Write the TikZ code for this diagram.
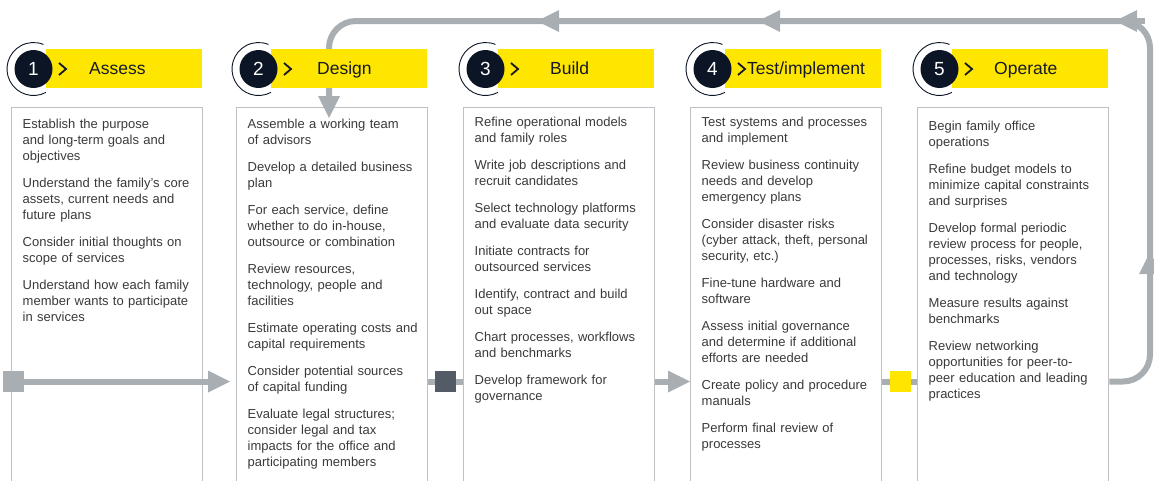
\documentclass[tikz,border=0pt]{standalone}
\usepackage{fontspec}
\setmainfont{Liberation Sans}
\usetikzlibrary{arrows.meta}
\definecolor{eyyellow}{HTML}{FFE600}
\definecolor{flowgray}{HTML}{A9AEB3}
\definecolor{boxgray}{HTML}{BDC1C5}
\definecolor{navy}{HTML}{0B1526}
\definecolor{slate}{HTML}{535B67}
\definecolor{bodytext}{HTML}{3A3A3A}
\definecolor{headtext}{HTML}{161A26}
\begin{document}
\begin{tikzpicture}[x=1pt,y=-1pt,
  flow/.style={draw=flowgray,line width=6pt},
  ahead/.style={flow,-{Triangle[length=22pt,width=22pt,line width=0pt]}},
  colbox/.style={draw=boxgray,line width=1.3pt,fill=white,anchor=north west,minimum width=191pt,minimum height=400pt,inner sep=0pt},
  yband/.style={fill=eyyellow,anchor=north west,minimum width=156pt,minimum height=39pt,inner sep=0pt},
  numc/.style={circle,fill=navy,minimum size=38pt,inner sep=0pt,text=white,font=\fontsize{19}{19}\selectfont},
  ring/.style={draw=navy,line width=0.9pt},
  chev/.style={draw=headtext,line width=1.8pt},
  htext/.style={anchor=base west,inner sep=0pt,text=headtext,font=\fontsize{17.5}{20}\selectfont},
  body/.style={anchor=north west,inner sep=0pt,text width=185pt,align=left,text=bodytext,font=\fontsize{13}{16}\selectfont},
  sq/.style={minimum size=21pt,inner sep=0pt}
]
\useasboundingbox (0,0) rectangle (1154,480);
\clip (0,0) rectangle (1154,480);

% ---------- column boxes ----------
\node[colbox] (b1) at (11,106.5) {};
\node[colbox] (b2) at (236,106.5) {};
\node[colbox] (b3) at (463,106.5) {};
\node[colbox] (b4) at (690,106.5) {};
\node[colbox] (b5) at (917,106.5) {};

% ---------- feedback loop ----------
\coordinate (c1) at (1150,381.5);
\coordinate (c2) at (1150,21);
\coordinate (c3) at (329,21);
\coordinate (c4) at (329,100);
\draw[flow,rounded corners=27pt] (b5.east |- c1) -- (c1) -- (c2) -- (c3) -- (c4);

\coordinate (ua) at (1150,282); \coordinate (ub) at (1150,252);
\coordinate (ta1) at (1145,21); \coordinate (tb1) at (1115,21);
\coordinate (ta2) at (788,21);  \coordinate (tb2) at (758,21);
\coordinate (ta3) at (567,21);  \coordinate (tb3) at (537,21);
\draw[ahead] (ua) -- (ub);
\draw[ahead] (ta1) -- (tb1);
\draw[ahead] (ta2) -- (tb2);
\draw[ahead] (ta3) -- (tb3);

% ---------- headers ----------
\node[yband] (y1) at (46,49) {};
\node[yband] (y2) at (271,49) {};
\node[yband] (y3) at (498,49) {};
\node[yband] (y4) at (725,49) {};
\node[yband] (y5) at (952,49) {};

\node[numc] (n1) at (33.5,69) {1};
\node[numc] (n2) at (258.5,69) {2};
\node[numc] (n3) at (485.5,69) {3};
\node[numc] (n4) at (712.5,69) {4};
\node[numc] (n5) at (939.5,69) {5};
\foreach \n in {n1,n2,n3,n4,n5}
  \draw[ring] (\n.center) ++(62:26.5) arc[start angle=62,end angle=292,radius=26.5];

\draw[chev] (59,63) -- (66,69) -- (59,75);
\draw[chev] (284,63) -- (291,69) -- (284,75);
\draw[chev] (511,63) -- (518,69) -- (511,75);
\draw[chev] (738,63) -- (745,69) -- (738,75);
\draw[chev] (965,63) -- (972,69) -- (965,75);

\node[htext] (h1) at (89,74.5) {Assess};
\node[htext] (h2) at (317,74.5) {Design};
\node[htext] (h3) at (550,74.5) {Build};
\node[htext] (h4) at (747,74.5) {Test/implement};
\node[htext] (h5) at (994,74.5) {Operate};

% ---------- body texts ----------
\node[body] (p1) at (22.5,116.8) {\strut Establish the purpose\\and long-term goals and\\objectives\\[11pt]Understand the family's core\\assets, current needs and\\future plans\\[11pt]Consider initial thoughts on\\scope of services\\[11pt]Understand how each family\\member wants to participate\\in services};
\node[body] (p2) at (247.5,116.8) {\strut Assemble a working team\\of advisors\\[11pt]Develop a detailed business\\plan\\[11pt]For each service, define\\whether to do in-house,\\outsource or combination\\[11pt]Review resources,\\technology, people and\\facilities\\[11pt]Estimate operating costs and\\capital requirements\\[11pt]Consider potential sources\\of capital funding\\[11pt]Evaluate legal structures;\\consider legal and tax\\impacts for the office and\\participating members};
\node[body] (p3) at (474.5,114.8) {\strut Refine operational models\\and family roles\\[11pt]Write job descriptions and\\recruit candidates\\[11pt]Select technology platforms\\and evaluate data security\\[11pt]Initiate contracts for\\outsourced services\\[11pt]Identify, contract and build\\out space\\[11pt]Chart processes, workflows\\and benchmarks\\[11pt]Develop framework for\\governance};
\node[body] (p4) at (701.5,114.8) {\strut Test systems and processes\\and implement\\[11pt]Review business continuity\\needs and develop\\emergency plans\\[11pt]Consider disaster risks\\(cyber attack, theft, personal\\security, etc.)\\[11pt]Fine-tune hardware and\\software\\[11pt]Assess initial governance\\and determine if additional\\efforts are needed\\[11pt]Create policy and procedure\\manuals\\[11pt]Perform final review of\\processes};
\node[body] (p5) at (928.5,118.8) {\strut Begin family office\\operations\\[11pt]Refine budget models to\\minimize capital constraints\\and surprises\\[11pt]Develop formal periodic\\review process for people,\\processes, risks, vendors\\and technology\\[11pt]Measure results against\\benchmarks\\[11pt]Review networking\\opportunities for peer-to-\\peer education and leading\\practices};

% ---------- down arrow into Design ----------
\coordinate (da) at (329,90); \coordinate (db) at (329,118);
\draw[ahead] (da) -- (db);

% ---------- main flow line ----------
\coordinate (q1) at (13.5,381.5);
\coordinate (q2) at (445.5,381.5);
\coordinate (q3) at (900.5,381.5);
\draw[ahead,shorten >=6pt] (q1) -- (b2.west |- q1);
\draw[flow] (b2.east |- q2) -- (b3.west |- q2);
\draw[ahead] (b3.east |- q2) -- (b4.west |- q2);
\draw[flow] (b4.east |- q3) -- (b5.west |- q3);
\node[sq,fill=flowgray] (s1) at (q1) {};
\node[sq,fill=slate] (s2) at (q2) {};
\node[sq,fill=eyyellow] (s3) at (q3) {};
\end{tikzpicture}
\end{document}
